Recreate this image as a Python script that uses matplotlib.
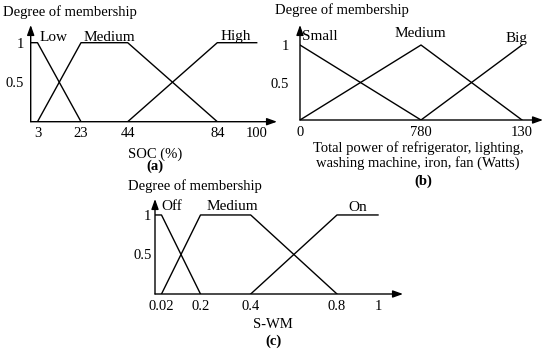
import numpy as np
import matplotlib.pyplot as plt

plt.rcParams['font.family'] = ['Liberation Serif', 'DejaVu Serif']
plt.rcParams['font.size'] = 10.5

W, H = 550, 350

# ---- data (membership functions) ----
soc_low_x = [0, 3, 23]
soc_low_y = [1, 1, 0]
soc_med_x = [3, 23, 44, 84]
soc_med_y = [0, 1, 1, 0]
soc_high_x = [44, 84, 100]
soc_high_y = [0, 1, 1]
soc_ticks = [3, 23, 44, 84, 100]
soc_ticklabels = ['3', '23', '44', '84', '100']

pw_small_x = [0, 780]
pw_small_y = [1, 0]
pw_med_x = [0, 780, 1300]
pw_med_y = [0, 1, 0]
pw_big_x = [780, 1300]
pw_big_y = [0, 1]
pw_ticks = [0, 780, 1300]
pw_ticklabels = ['0', '780', '130']

swm_off_x = [0, 0.02, 0.2]
swm_off_y = [1, 1, 0]
swm_med_x = [0.02, 0.2, 0.4, 0.8]
swm_med_y = [0, 1, 1, 0]
swm_on_x = [0.4, 0.8, 1]
swm_on_y = [0, 1, 1]
swm_ticks = [0.02, 0.2, 0.4, 0.8, 1]
swm_ticklabels = ['0.02', '0.2', '0.4', '0.8', '1']


def piecewise(vals, pos):
    # schematic (non-proportional) axis: value -> pixel offset from origin
    vals = np.asarray(vals, float)
    pos = np.asarray(pos, float)

    def conv(x, a, b):
        x = np.asarray(x, float)
        y = np.interp(x, a, b)
        y = np.where(x > a[-1], b[-1] + (x - a[-1]) * (b[-1] - b[-2]) / (a[-1] - a[-2]), y)
        y = np.where(x < a[0], b[0] + (x - a[0]) * (b[1] - b[0]) / (a[1] - a[0]), y)
        return y
    return (lambda x: conv(x, vals, pos)), (lambda p: conv(p, pos, vals))


def make_axes(fig, l, t, r, b):
    return fig.add_axes([l / W, 1 - b / H, (r - l) / W, (b - t) / H])


def setup(ax, vals, pos, tip, ytop, ticks, ticklabels, ypad):
    fwd, inv = piecewise(vals, pos)
    ax.set_xscale('function', functions=(fwd, inv))
    ax.set_xlim(0, float(inv(tip)))
    ax.set_ylim(0, ytop)
    ax.set_xticks(ticks)
    ax.set_xticklabels(ticklabels)
    ax.set_yticks([0.5, 1])
    ax.set_yticklabels(['0.5', '1'])
    ax.tick_params(axis='x', length=0, pad=4)
    ax.tick_params(axis='y', length=0, pad=ypad)
    ax.minorticks_off()
    for s in ax.spines.values():
        s.set_visible(False)
    ax.patch.set_visible(False)
    arrow = dict(arrowstyle='-|>,head_length=0.5,head_width=0.18', color='black',
                 lw=1.0, mutation_scale=12, shrinkA=0, shrinkB=0)
    ax.annotate('', xy=(1, 0), xytext=(0, 0), xycoords='axes fraction',
                arrowprops=arrow, annotation_clip=False)
    ax.annotate('', xy=(0, 1), xytext=(0, 0), xycoords='axes fraction',
                arrowprops=arrow, annotation_clip=False)


def mf_label(ax, text, xy, dx, dy, ha='left'):
    ax.annotate(text, xy=xy, xytext=(dx * 0.72, dy * 0.72), textcoords='offset points',
                ha=ha, va='center', fontsize=11)


fig = plt.figure(figsize=(W / 100, H / 100), dpi=100)
fig.patch.set_facecolor('white')
lw = 1.0

# (a) SOC
ax1 = make_axes(fig, 30.7, 25, 277, 121.7)
setup(ax1, [0, 3, 23, 44, 84, 100], [0, 6.8, 50.3, 97, 186.6, 226], 246.3, 1.224,
      soc_ticks, soc_ticklabels, 5)
ax1.plot(soc_low_x, soc_low_y, color='black', lw=lw)
ax1.plot(soc_med_x, soc_med_y, color='black', lw=lw)
ax1.plot(soc_high_x, soc_high_y, color='black', lw=lw)
mf_label(ax1, 'Low', (3, 1), 2.5, 5)
mf_label(ax1, 'Medium', (23, 1), 3, 5)
mf_label(ax1, 'High', (84, 1), 3.4, 6)
ax1.set_xlabel('SOC (%)', va='center')
ax1.xaxis.set_label_coords(0.505, -0.334)

# (b) total power
ax2 = make_axes(fig, 300, 25, 543, 120)
setup(ax2, [0, 780, 1300], [0, 121, 222], 243, 1.267, pw_ticks, pw_ticklabels, 8)
ax2.plot(pw_small_x, pw_small_y, color='black', lw=lw)
ax2.plot(pw_med_x, pw_med_y, color='black', lw=lw)
ax2.plot(pw_big_x, pw_big_y, color='black', lw=lw)
mf_label(ax2, 'Small', (0, 1), 1.7, 8.3)
mf_label(ax2, 'Medium', (780, 1), -1, 11.7, ha='center')
mf_label(ax2, 'Big', (1300, 1), 5, 6.7, ha='right')
ax2.set_xlabel('Total power of refrigerator, lighting,\nwashing machine, iron, fan (Watts)',
               va='center', linespacing=1.05)
ax2.xaxis.set_label_coords(0.486, -0.374)

# (c) S-WM
ax3 = make_axes(fig, 155, 199, 403, 294)
setup(ax3, [0, 0.02, 0.2, 0.4, 0.8, 1], [0, 6.5, 45.5, 95.7, 182, 223], 248, 1.202,
      swm_ticks, swm_ticklabels, 2.5)
ax3.plot(swm_off_x, swm_off_y, color='black', lw=lw)
ax3.plot(swm_med_x, swm_med_y, color='black', lw=lw)
ax3.plot(swm_on_x, swm_on_y, color='black', lw=lw)
mf_label(ax3, 'Off', (0.02, 1), 0, 8.3)
mf_label(ax3, 'Medium', (0.2, 1), 6.5, 8.3)
mf_label(ax3, 'On', (0.8, 1), 11, 7)
ax3.set_xlabel('S-WM', va='center')
ax3.xaxis.set_label_coords(0.476, -0.326)

# titles and panel letters
for x, y in [(3, 11.7), (275, 10), (128, 186)]:
    fig.text(x / W, 1 - y / H, 'Degree of membership', ha='left', va='center')
for txt, x, y in [('(a)', 155, 166.7), ('(b)', 423, 181.7), ('(c)', 273, 341.7)]:
    fig.text(x / W, 1 - y / H, txt, ha='center', va='center', fontweight='bold')

fig.savefig('out.png', dpi=100, facecolor='white')
